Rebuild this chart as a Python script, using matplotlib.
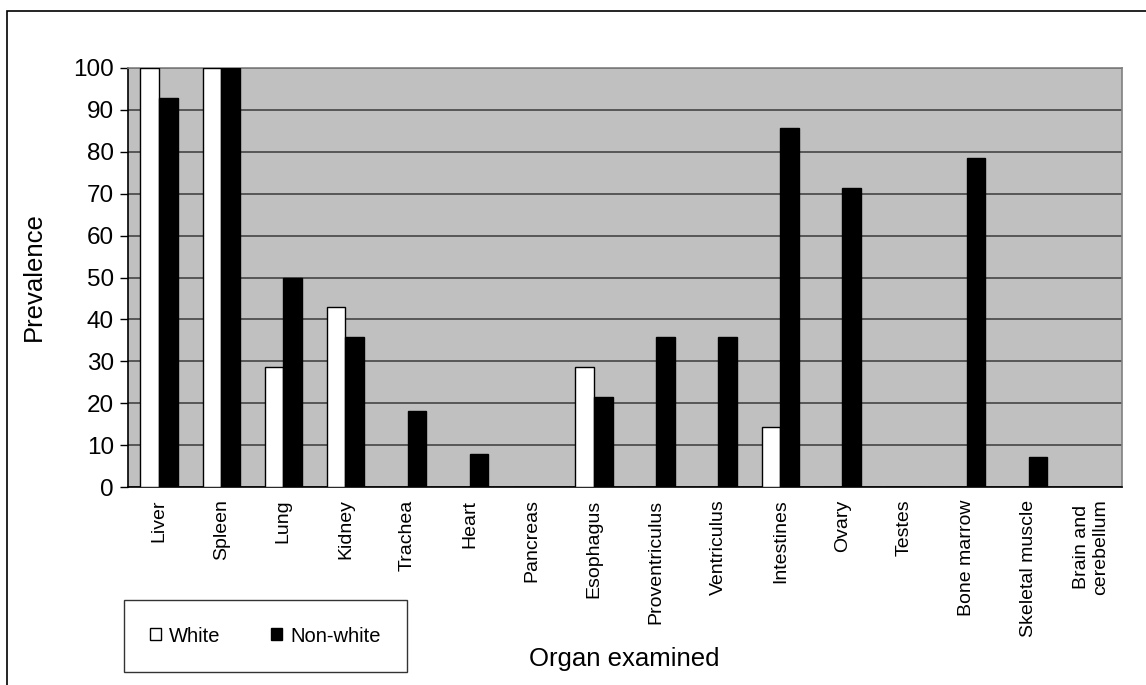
import matplotlib
matplotlib.use('Agg')
import matplotlib.pyplot as plt
from matplotlib.patches import Rectangle, Patch
import numpy as np

# data
organs = ['Liver', 'Spleen', 'Lung', 'Kidney', 'Trachea', 'Heart', 'Pancreas',
          'Esophagus', 'Proventriculus', 'Ventriculus', 'Intestines', 'Ovary',
          'Testes', 'Bone marrow', 'Skeletal muscle', 'Brain and\ncerebellum']
white = [100, 100, 28.6, 42.9, 0, 0, 0, 28.6, 0, 0, 14.3, 0, 0, 0, 0, 0]
non_white = [92.9, 100, 50, 35.7, 18.2, 7.9, 0, 21.4, 35.7, 35.7, 85.7, 71.4, 0, 78.6, 7.1, 0]
y_ticks = list(range(0, 101, 10))

plt.rcParams['font.family'] = ['Liberation Sans', 'DejaVu Sans']

W, H = 1146, 685
fig = plt.figure(figsize=(W / 100, H / 100), dpi=100)
ax = fig.add_axes([128 / W, 1 - 487 / H, (1122 - 128) / W, (487 - 68) / H])

# outer chart border (runs off the right and bottom edges)
fig.patches.append(Rectangle((7 / W, -0.2), 1.5, 0.2 + 1 - 11 / H, transform=fig.transFigure,
                             fill=False, edgecolor='black', linewidth=1.2))

x = np.arange(len(organs))
bw = 0.3
ax.set_facecolor('#c0c0c0')
ax.bar(x - bw / 2, white, bw, color='white', edgecolor='black', linewidth=1, zorder=3, label='White')
ax.bar(x + bw / 2, non_white, bw, color='black', edgecolor='black', linewidth=1, zorder=3, label='Non-white')

ax.set_xlim(-0.5, len(organs) - 0.5)
ax.set_ylim(0, 100)
ax.set_yticks(y_ticks)
ax.yaxis.grid(True, color='#3a3a3a', linewidth=1.1, zorder=1)
ax.set_axisbelow(True)

ax.set_xticks(x)
ax.set_xticklabels(organs, rotation=90, fontsize=14, va='top', ha='center', multialignment='center')
ax.tick_params(axis='x', length=0, pad=9)
ax.tick_params(axis='y', length=6, width=1, direction='out', labelsize=17.5, pad=4)

for side in ['left', 'bottom']:
    ax.spines[side].set_color('black')
    ax.spines[side].set_linewidth(1.2)
for side in ['top', 'right']:
    ax.spines[side].set_color('#808080')
    ax.spines[side].set_linewidth(1.2)

fig.text(34 / W, 1 - 277 / H, 'Prevalence', rotation=90, fontsize=18.5, ha='center', va='center')
fig.text(624 / W, 1 - 659 / H, 'Organ examined', fontsize=18.5, ha='center', va='center')

handles = [Patch(facecolor='white', edgecolor='black', linewidth=1),
           Patch(facecolor='black', edgecolor='black', linewidth=1)]
leg = fig.legend(handles, ['White', 'Non-white'], loc='center', ncol=2,
                 bbox_to_anchor=(265.5 / W, 1 - 636 / H), fontsize=14.5,
                 frameon=True, fancybox=False, shadow=False, borderpad=1.3,
                 handlelength=0.55, handleheight=0.55, handletextpad=0.4,
                 columnspacing=2.5, borderaxespad=0)
leg.get_frame().set_edgecolor('black')
leg.get_frame().set_linewidth(1)

fig.savefig('out.png', dpi=100)
